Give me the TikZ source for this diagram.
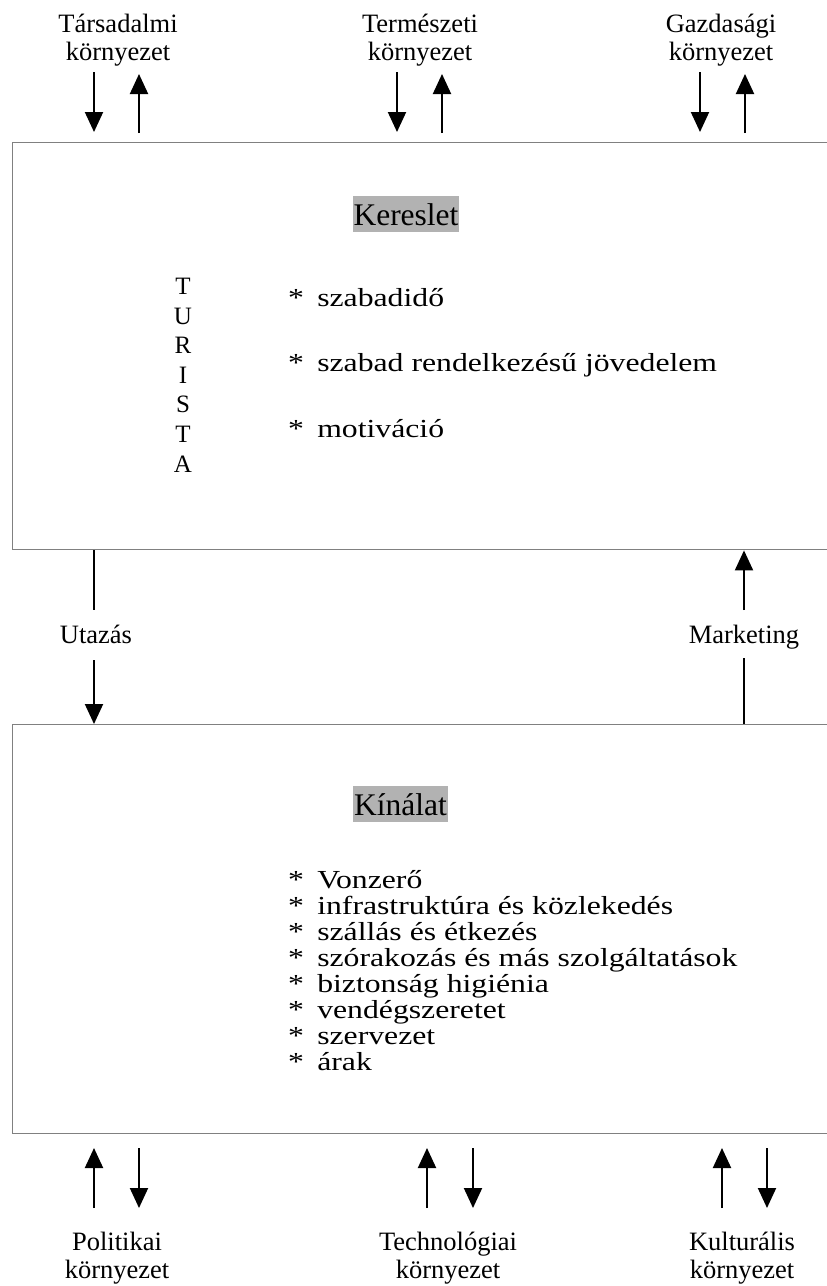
\documentclass[tikz,border=0pt]{standalone}
\usepackage{fontspec}
\setmainfont{Liberation Serif}
\usetikzlibrary{arrows.meta}
\tikzstyle{every node}=[font=\fontsize{26.5}{27.5}\selectfont, inner sep=0pt, align=center]
\tikzstyle{panel}=[draw=black!50, line width=1.4pt, anchor=north west, minimum width=830pt]
\tikzstyle{mark box}=[fill=black!30, anchor=base, font=\fontsize{31.5}{32}\selectfont, text height=29.5pt, text depth=7pt]
\tikzstyle{item list}=[anchor=base west, align=left, xscale=1.22, transform shape]
\tikzstyle{flow}=[line width=2pt, -{Triangle[width=18pt,length=20pt]}]
\tikzstyle{bar}=[line width=2pt]
\newcommand{\istar}{\makebox[23.8pt][l]{*}}

\begin{document}
\begin{tikzpicture}[x=1pt, y=-1pt]
\useasboundingbox (0,0) rectangle (827,1286);
% Boxes
    \node[panel, minimum height=407pt] (demand) at (12,142) {};
    \node[panel, minimum height=409pt] (supply) at (12,724) {};
% Titles
    \node[mark box, minimum width=106pt] (keres) at (406,225) {Kereslet};
    \node[mark box, minimum width=95pt] (kinal) at (400.5,815) {Kínálat};
% Tourist
    \node[anchor=base, font=\fontsize{25}{29.6}\selectfont] (turista) at (183,472) {T\\U\\R\\I\\S\\T\\A};
% Demand items
    \node[item list, font=\fontsize{26}{65.5}\selectfont] (dlist) at (288,437)
        {\istar szabadidő\\\istar szabad rendelkezésű jövedelem\\\istar motiváció};
% Supply items
    \node[item list, font=\fontsize{26}{26}\selectfont] (slist) at (288,1070)
        {\istar Vonzerő\\\istar infrastruktúra és közlekedés\\\istar szállás és étkezés\\
         \istar szórakozás és más szolgáltatások\\\istar biztonság higiénia\\
         \istar vendégszeretet\\\istar szervezet\\\istar árak};
% Environments on top
    \node[anchor=base] (social) at (118,60) {Társadalmi\\környezet};
    \node[anchor=base] (nature) at (420,60) {Természeti\\környezet};
    \node[anchor=base] (economy) at (721,60) {Gazdasági\\környezet};
% Environments at the bottom
    \node[anchor=base] (politics) at (117,1278) {Politikai\\környezet};
    \node[anchor=base] (technics) at (448,1278) {Technológiai\\környezet};
    \node[anchor=base] (culture) at (742,1278) {Kulturális\\környezet};
% Links between the boxes
    \node[anchor=base] (travel) at (96,643) {Utazás};
    \node[anchor=base] (market) at (744,643) {Marketing};
    \coordinate (t1) at (94,610);
    \coordinate (t2) at (94,660);
    \coordinate (m1) at (744,658);
    \coordinate (m2) at (744,610);
    \draw[bar] (t1 |- demand.south) -- (t1);
    \draw[flow] (t2) -- (t2 |- supply.north);
    \draw[bar] (m1 |- supply.north) -- (m1);
    \draw[flow] (m2) -- (m2 |- demand.south);
% Arrows on top
    \coordinate (a1) at (94,72);   \coordinate (a2) at (139,74);
    \coordinate (b1) at (397,72);  \coordinate (b2) at (442,74);
    \coordinate (c1) at (700,72);  \coordinate (c2) at (745,74);
    \draw[flow] (a1) -- ++(0,60);
    \draw[flow] (a2 |- 0,133) -- (a2);
    \draw[flow] (b1) -- ++(0,60);
    \draw[flow] (b2 |- 0,133) -- (b2);
    \draw[flow] (c1) -- ++(0,60);
    \draw[flow] (c2 |- 0,133) -- (c2);
% Arrows at the bottom
    \coordinate (p1) at (94,1208);   \coordinate (p2) at (139,1148);
    \coordinate (q1) at (427,1208);  \coordinate (q2) at (473,1148);
    \coordinate (r1) at (722,1208);  \coordinate (r2) at (767,1148);
    \draw[flow] (p1) -- ++(0,-60);
    \draw[flow] (p2) -- ++(0,60);
    \draw[flow] (q1) -- ++(0,-60);
    \draw[flow] (q2) -- ++(0,60);
    \draw[flow] (r1) -- ++(0,-60);
    \draw[flow] (r2) -- ++(0,60);
\end{tikzpicture}
\end{document}
